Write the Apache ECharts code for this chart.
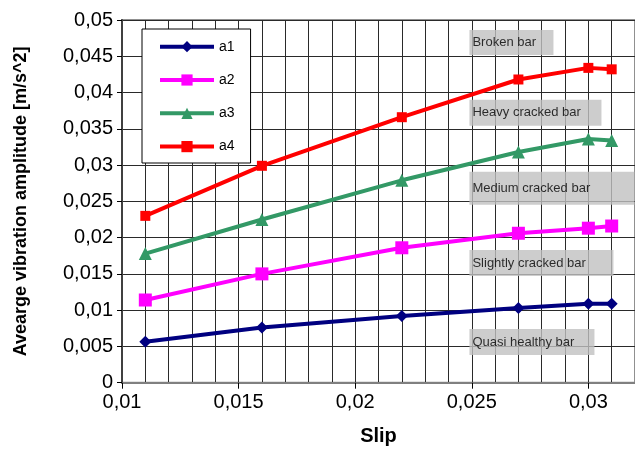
<!DOCTYPE html>
<html><head><meta charset="utf-8">
<script src="https://cdn.jsdelivr.net/npm/echarts@6/dist/echarts.min.js"></script>
<style>html,body{margin:0;padding:0;background:#fff}#c{width:635px;height:455px}</style>
</head><body><div id="c"></div><script>
// ---- data ----
const slip = [0.011, 0.016, 0.022, 0.027, 0.030, 0.031];
const a1 = [0.00565, 0.0076, 0.0092, 0.0103, 0.0109, 0.0109];
const a2 = [0.0114, 0.0150, 0.0186, 0.0206, 0.0213, 0.0216];
const a3 = [0.0178, 0.0225, 0.0279, 0.0318, 0.0336, 0.0334];
const a4 = [0.0230, 0.0299, 0.0366, 0.0418, 0.0434, 0.0432];
const seriesNames = ['a1', 'a2', 'a3', 'a4'];
const annotationTexts = ['Broken bar', 'Heavy cracked bar', 'Medium cracked bar', 'Slightly cracked bar', 'Quasi healthy bar'];
const annotationSlip = [0.0249, 0.0249, 0.0249, 0.0249, 0.0249];
const annotationAmp = [0.0469, 0.0372, 0.0268, 0.0165, 0.0056];
const xTitle = 'Slip';
const yTitle = 'Avearge vibration amplitude [m/s^2]';

// ---- styles ----
const FONT = 'Arial, "Liberation Sans", sans-serif';
const colors = ['#000080', '#FF00FF', '#339966', '#FF0000'];
const symbols = ['diamond', 'rect', 'triangle', 'rect'];
const symbolSizes = [12, 13, 13, 10];
const boxW = [84, 132, 165, 144, 125];
const boxH = [25, 26, 33, 26, 26];
const boxLH = [25, 26, 22, 26, 26];

function fmt(v) {
  return String(parseFloat(Number(v).toFixed(4))).replace('.', ',');
}
function isMajorX(v) {
  const k = v * 200;
  return Math.abs(k - Math.round(k)) < 1e-6;
}

const values = [a1, a2, a3, a4];
const lineSeries = seriesNames.map((n, i) => ({
  name: n,
  type: 'line',
  xAxisIndex: 0,
  data: slip.map((x, j) => [x, values[i][j]]),
  symbol: symbols[i],
  symbolSize: symbolSizes[i],
  showAllSymbol: true,
  lineStyle: { color: colors[i], width: 4 },
  itemStyle: { color: colors[i] },
  emphasis: { disabled: true },
  animation: false,
  z: 3
}));

const annSeries = {
  name: 'annotations',
  type: 'scatter',
  xAxisIndex: 0,
  symbolSize: 0,
  silent: true,
  animation: false,
  z: 4,
  data: annotationTexts.map((t, i) => ({
    value: [annotationSlip[i], annotationAmp[i]],
    label: {
      show: true,
      position: 'right',
      distance: 0,
      formatter: t,
      backgroundColor: '#C0C0C0',
      color: '#000',
      fontFamily: FONT,
      fontSize: 13,
      padding: [0, 0, 0, 3],
      width: boxW[i] - 3,
      height: boxH[i],
      lineHeight: boxLH[i],
      align: 'left'
    }
  }))
};

const chart = echarts.init(document.getElementById('c'), null, { renderer: 'canvas' });
chart.setOption({
  backgroundColor: '#fff',
  animation: false,
  textStyle: { fontFamily: FONT },
  grid: {
    left: 122, top: 20, width: 515.6, height: 362.7,
    show: true, borderColor: '#909090', borderWidth: 2, backgroundColor: '#fff'
  },
  legend: {
    data: seriesNames,
    orient: 'vertical',
    left: 142, top: 29,
    itemWidth: 54, itemHeight: 14, itemGap: 19.3,
    padding: [10.7, 16, 9.4, 16],
    backgroundColor: '#fff',
    borderColor: '#000', borderWidth: 1,
    lineStyle: { width: 4 },
    textStyle: { fontFamily: FONT, fontSize: 14, color: '#000' },
    selectedMode: false
  },
  xAxis: [{
    type: 'value', min: 0.01, max: 0.032, interval: 0.001,
    name: xTitle, nameLocation: 'middle', nameGap: 44,
    nameTextStyle: { fontFamily: FONT, fontSize: 20, fontWeight: 'bold', color: '#000' },
    axisLine: { show: true, lineStyle: { color: '#808080', width: 2 } },
    axisTick: { show: false },
    axisLabel: {
      fontFamily: FONT, fontSize: 20, color: '#000', margin: 10,
      showMaxLabel: false,
      formatter: v => isMajorX(v) ? fmt(v) : ''
    },
    splitLine: { show: true, lineStyle: { color: '#2a2a2a', width: 1 } }
  }, {
    type: 'value', min: 0.01, max: 0.032, interval: 0.005, position: 'bottom',
    axisLine: { show: false },
    axisTick: { show: true, length: 6, lineStyle: { color: '#000', width: 1 } },
    axisLabel: { show: false },
    splitLine: { show: false }
  }],
  yAxis: {
    type: 'value', min: 0, max: 0.05, interval: 0.005,
    name: yTitle, nameLocation: 'middle', nameGap: 92, nameRotate: 90,
    nameTextStyle: { fontFamily: FONT, fontSize: 18, fontWeight: 'bold', color: '#000' },
    axisLine: { show: true, lineStyle: { color: '#404040', width: 2 } },
    axisTick: { show: true, length: 5, lineStyle: { color: '#000', width: 1 } },
    axisLabel: { fontFamily: FONT, fontSize: 20, color: '#000', margin: 9, formatter: v => fmt(v) },
    splitLine: { show: true, lineStyle: { color: '#2a2a2a', width: 1 } }
  },
  series: lineSeries.concat([annSeries])
});
</script></body></html>
